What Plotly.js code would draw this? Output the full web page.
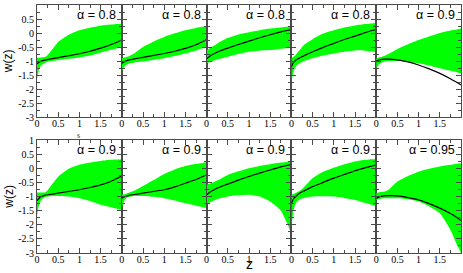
<!DOCTYPE html>
<html><head><meta charset="utf-8">
<script src="https://cdn.plot.ly/plotly-3.0.1.min.js"></script>
<style>html,body{margin:0;padding:0;background:#fff;}#chart{width:463px;height:273px;}</style>
</head><body><div id="chart"></div>
<script>
// redshift grid shared by every panel
const zGrid = [0, 0.05, 0.1, 0.2, 0.3, 0.5, 0.75, 1, 1.25, 1.5, 1.75, 1.9, 2];

const alphaLabels = ['α = 0.8','α = 0.8','α = 0.8','α = 0.8','α = 0.9',
                     'α = 0.9','α = 0.9','α = 0.9','α = 0.9','α = 0.95'];

const xTickVals = [0, 0.5, 1, 1.5];
const xTickText = ['0', '0.5', '1', '1.5'];
const yTickVals = [1, 0.5, 0, -0.5, -1, -1.5, -2, -2.5, -3];
const yTickText = ['1', '0.5', '0', '-0.5', '-1', '-1.5', '-2', '-2.5', '-3'];

// panel 1
const mid1 = [-1.1,-1.04,-1.0,-0.96,-0.93,-0.88,-0.81,-0.74,-0.65,-0.54,-0.41,-0.32,-0.25];
const upper1 = [-0.88,-0.88,-0.87,-0.85,-0.7,-0.32,-0.06,0.1,0.19,0.26,0.3,0.32,0.33];
const lower1 = [-1.65,-1.3,-1.15,-1.06,-1.01,-0.97,-0.92,-0.87,-0.8,-0.7,-0.6,-0.53,-0.48];
// panel 2
const mid2 = [-1.08,-1.03,-0.99,-0.95,-0.92,-0.87,-0.8,-0.73,-0.65,-0.55,-0.42,-0.31,-0.23];
const upper2 = [-0.9,-0.88,-0.86,-0.8,-0.72,-0.5,-0.3,-0.14,-0.01,0.1,0.18,0.22,0.24];
const lower2 = [-1.38,-1.22,-1.14,-1.08,-1.05,-1.02,-0.96,-0.9,-0.82,-0.73,-0.62,-0.54,-0.49];
// panel 3
const mid3 = [-0.92,-0.86,-0.8,-0.72,-0.65,-0.54,-0.41,-0.29,-0.17,-0.06,0.04,0.09,0.12];
const upper3 = [-0.61,-0.57,-0.52,-0.43,-0.33,-0.18,-0.05,0.03,0.1,0.16,0.2,0.22,0.24];
const lower3 = [-1.08,-1.05,-1.02,-0.97,-0.93,-0.85,-0.75,-0.67,-0.63,-0.61,-0.56,-0.53,-0.51];
// panel 4
const mid4 = [-1.2,-1.05,-0.97,-0.88,-0.81,-0.67,-0.51,-0.37,-0.23,-0.11,0.02,0.09,0.13];
const upper4 = [-0.9,-0.85,-0.78,-0.6,-0.42,-0.22,-0.02,0.1,0.2,0.27,0.32,0.34,0.36];
const lower4 = [-1.75,-1.38,-1.2,-1.08,-1.0,-0.9,-0.8,-0.73,-0.67,-0.62,-0.63,-0.66,-0.68];
// panel 5
const mid5 = [-1.0,-0.97,-0.95,-0.93,-0.93,-0.96,-1.03,-1.14,-1.28,-1.44,-1.63,-1.76,-1.85];
const upper5 = [-0.9,-0.88,-0.86,-0.81,-0.74,-0.57,-0.4,-0.25,-0.12,0.0,0.09,0.13,0.16];
const lower5 = [-1.26,-1.15,-1.08,-1.02,-1.0,-1.0,-1.03,-1.08,-1.16,-1.26,-1.35,-1.4,-1.44];
// panel 6
const mid6 = [-1.15,-1.06,-1.0,-0.95,-0.93,-0.88,-0.82,-0.76,-0.68,-0.59,-0.46,-0.35,-0.27];
const upper6 = [-0.86,-0.86,-0.86,-0.85,-0.68,-0.3,-0.02,0.12,0.2,0.26,0.3,0.31,0.32];
const lower6 = [-1.68,-1.3,-1.12,-1.02,-0.99,-0.98,-1.0,-1.06,-1.16,-1.29,-1.38,-1.44,-1.47];
// panel 7
const mid7 = [-1.06,-1.02,-0.99,-0.95,-0.93,-0.88,-0.82,-0.76,-0.66,-0.53,-0.4,-0.3,-0.24];
const upper7 = [-0.94,-0.92,-0.9,-0.85,-0.79,-0.63,-0.42,-0.2,-0.04,0.08,0.16,0.19,0.21];
const lower7 = [-1.41,-1.18,-1.06,-1.0,-0.98,-0.98,-1.01,-1.06,-1.14,-1.24,-1.32,-1.38,-1.41];
// panel 8
const mid8 = [-0.94,-0.88,-0.82,-0.74,-0.67,-0.56,-0.42,-0.29,-0.17,-0.06,0.05,0.1,0.14];
const upper8 = [-0.59,-0.56,-0.53,-0.47,-0.4,-0.24,-0.11,0.0,0.08,0.14,0.2,0.23,0.26];
const lower8 = [-1.29,-1.24,-1.19,-1.12,-1.07,-1.0,-0.96,-0.94,-1.0,-1.18,-1.5,-1.95,-2.35];
// panel 9
const mid9 = [-1.24,-1.08,-1.0,-0.88,-0.8,-0.65,-0.5,-0.35,-0.22,-0.09,0.02,0.08,0.12];
const upper9 = [-0.94,-0.91,-0.88,-0.8,-0.66,-0.35,-0.12,0.02,0.14,0.24,0.3,0.32,0.33];
const lower9 = [-2.1,-1.5,-1.25,-1.1,-1.05,-1.0,-0.99,-1.0,-1.05,-1.12,-1.23,-1.3,-1.35];
// panel 10
const mid10 = [-1.06,-1.03,-1.0,-0.98,-0.97,-0.98,-1.04,-1.12,-1.25,-1.41,-1.6,-1.74,-1.85];
const upper10 = [-0.88,-0.86,-0.84,-0.82,-0.75,-0.47,-0.27,-0.12,-0.02,0.06,0.12,0.16,0.18];
const lower10 = [-1.12,-1.1,-1.08,-1.06,-1.06,-1.06,-1.1,-1.18,-1.35,-1.59,-2.18,-2.7,-3.0];

const mids = [mid1,mid2,mid3,mid4,mid5,mid6,mid7,mid8,mid9,mid10];
const uppers = [upper1,upper2,upper3,upper4,upper5,upper6,upper7,upper8,upper9,upper10];
const lowers = [lower1,lower2,lower3,lower4,lower5,lower6,lower7,lower8,lower9,lower10];

const frameColor = '#4a4a4a';
const serif = 'Liberation Serif';
const sans = 'Liberation Sans';
const traces = [];
const layout = {
  width: 463, height: 273,
  margin: {l: 37, r: 2, t: 5, b: 20, pad: 0},
  paper_bgcolor: '#fff', plot_bgcolor: '#fff',
  showlegend: false,
  annotations: []
};
const topDom = [0.548, 1];
const botDom = [0, 0.4556];

for (let i = 0; i < 10; i++) {
  const n = i + 1;
  const suf = (n === 1 ? '' : String(n));
  const xa = 'x' + suf;
  const ya = 'y' + suf;
  traces.push({x: zGrid, y: lowers[i], xaxis: xa, yaxis: ya, mode: 'lines',
    line: {width: 0, shape: 'spline', smoothing: 0.6, color: 'rgba(0,0,0,0)'}, hoverinfo: 'skip'});
  traces.push({x: zGrid, y: uppers[i], xaxis: xa, yaxis: ya, mode: 'lines', fill: 'tonexty',
    fillcolor: '#00ff00', line: {width: 0, shape: 'spline', smoothing: 0.6, color: 'rgba(0,0,0,0)'}, hoverinfo: 'skip'});
  traces.push({x: zGrid, y: mids[i], xaxis: xa, yaxis: ya, mode: 'lines',
    line: {width: 1.2, color: '#000', shape: 'spline', smoothing: 0.6}});

  const col = i % 5;
  const row = i < 5 ? 0 : 1;
  const xd = [col * 0.2, (col + 1) * 0.2];
  const yd = row === 0 ? topDom : botDom;
  const common = {
    ticks: 'inside', ticklen: 5, tickwidth: 1, tickcolor: frameColor,
    showline: true, linecolor: frameColor, linewidth: 1, mirror: 'ticks',
    showgrid: false, zeroline: false, fixedrange: true,
    tickfont: {family: serif, size: 10, color: '#000'}
  };
  layout['xaxis' + suf] = Object.assign({}, common, {
    domain: xd, range: [0, 2], anchor: ya,
    tickmode: 'array', tickvals: xTickVals, ticktext: xTickText, ticklabelstandoff: -3,
    minor: {tickvals: [0.25, 0.75, 1.25, 1.75], ticks: 'inside', ticklen: 3, tickcolor: frameColor}
  });
  layout['yaxis' + suf] = Object.assign({}, common, {
    domain: yd, range: [-3, 1], anchor: xa,
    tickmode: 'array', tickvals: yTickVals, ticktext: yTickText,
    showticklabels: col === 0,
    minor: {tickvals: [0.75, 0.25, -0.25, -0.75, -1.25, -1.75, -2.25, -2.75], ticks: 'inside', ticklen: 3, tickcolor: frameColor}
  });
  layout.annotations.push({
    text: alphaLabels[i], xref: 'paper', yref: 'paper',
    x: xd[1], y: yd[1], xanchor: 'right', yanchor: 'top', xshift: -4, yshift: -1,
    showarrow: false, font: {family: sans, size: 12.5, color: '#000'}
  });
}

// axis titles and stray label as text
layout.annotations.push({text: 'w(z)', xref: 'paper', yref: 'paper', x: -0.068, y: (topDom[0]+topDom[1])/2,
  textangle: -90, showarrow: false, xanchor: 'center', yanchor: 'middle',
  font: {family: sans, size: 12, color: '#000'}});
layout.annotations.push({text: 'w(z)', xref: 'paper', yref: 'paper', x: -0.068, y: (botDom[0]+botDom[1])/2,
  textangle: -90, showarrow: false, xanchor: 'center', yanchor: 'middle',
  font: {family: sans, size: 12, color: '#000'}});
layout.annotations.push({text: 'z', xref: 'paper', yref: 'paper', x: 0.5, y: -20/248,
  showarrow: false, xanchor: 'center', yanchor: 'bottom', yshift: -1,
  font: {family: sans, size: 14, color: '#000'}});
layout.annotations.push({text: 's', xref: 'paper', yref: 'paper', x: 0.099, y: 0.472,
  showarrow: false, xanchor: 'center', yanchor: 'middle',
  font: {family: serif, size: 8, color: '#333'}});

Plotly.newPlot('chart', traces, layout, {staticPlot: true, displayModeBar: false});
</script>
</body></html>
